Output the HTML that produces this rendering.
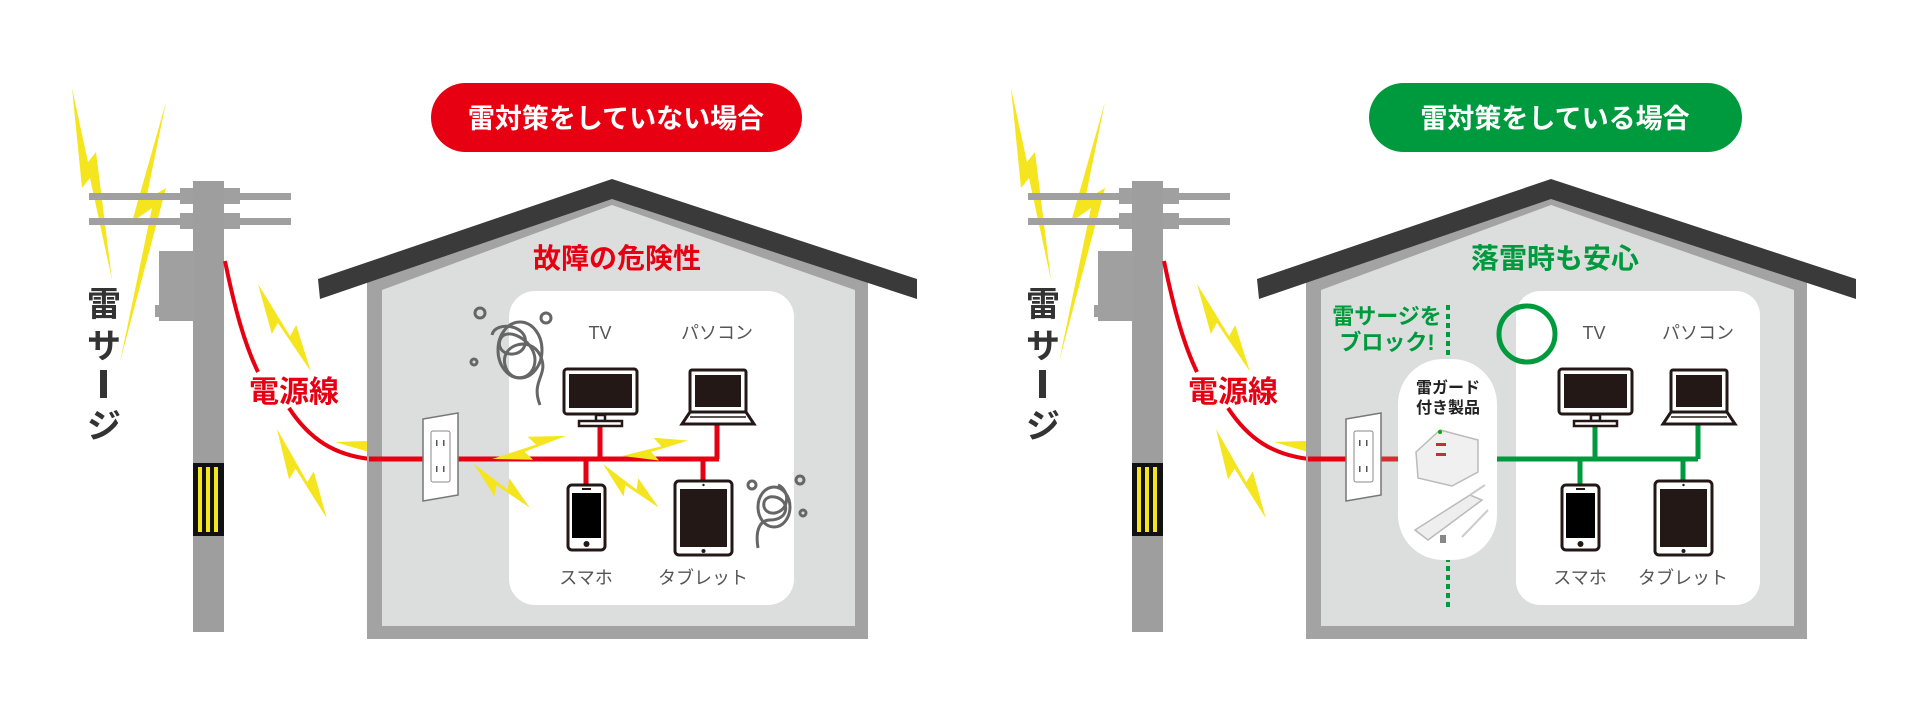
<!DOCTYPE html>
<html><head><meta charset="utf-8">
<style>html,body{margin:0;padding:0;background:#fff;width:1920px;height:720px;overflow:hidden}
text{font-family:"Liberation Sans","Noto Sans CJK JP",sans-serif}</style></head>
<body>
<svg width="1920" height="720" viewBox="0 0 1920 720" xmlns="http://www.w3.org/2000/svg">
<defs>
<polygon id="sb" points="0,0 60,8 56,0 100,14 42,8 46,16" fill="#f4e51e"/>
<g id="tv">
<rect x="0" y="0" width="73" height="45" rx="3" fill="#fff" stroke="#231815" stroke-width="3"/>
<rect x="5" y="5" width="63" height="34" fill="#231815"/>
<rect x="32" y="46" width="9" height="6" fill="#fff" stroke="#231815" stroke-width="2.5"/>
<rect x="15" y="52" width="43" height="5" fill="#fff" stroke="#231815" stroke-width="2.5"/>
</g>
<g id="lap">
<rect x="8" y="0" width="56" height="42" rx="2" fill="#fff" stroke="#231815" stroke-width="3"/>
<rect x="13" y="5" width="46" height="32" fill="#231815"/>
<polygon points="8,42 64,42 72,54 0,54" fill="#fff" stroke="#231815" stroke-width="3"/>
<line x1="8" y1="47" x2="64" y2="47" stroke="#231815" stroke-width="1.5"/>
</g>
<g id="ph">
<rect x="0" y="0" width="37" height="65" rx="4" fill="#fff" stroke="#231815" stroke-width="3"/>
<rect x="4" y="8" width="29" height="45" fill="#000"/>
<circle cx="18.5" cy="59" r="3" fill="#231815"/>
<rect x="14" y="3" width="9" height="2" fill="#231815"/>
</g>
<g id="tab">
<rect x="0" y="0" width="57" height="74" rx="4" fill="#fff" stroke="#231815" stroke-width="3"/>
<rect x="5" y="8" width="47" height="58" fill="#231815"/>
<circle cx="28.5" cy="70" r="2" fill="#231815"/>
<circle cx="28.5" cy="4" r="1.2" fill="#231815"/>
</g>
<g id="base">
<polygon points="72,88 88,162 96,152 112,280 90,178 82,188" fill="#f4e51e"/>
<polygon points="166,102 146,200 166,188 120,362 152,208 132,222" fill="#f4e51e"/>
<rect x="89" y="193" width="202" height="7" fill="#a0a0a0"/>
<rect x="89" y="218" width="202" height="7" fill="#a0a0a0"/>
<rect x="180" y="188" width="60" height="16" fill="#a0a0a0"/>
<rect x="180" y="213" width="60" height="16" fill="#a0a0a0"/>
<rect x="193" y="181" width="31" height="451" fill="#9e9e9e"/>
<rect x="159" y="251" width="36" height="70" fill="#a0a0a0"/>
<rect x="155" y="305" width="10" height="12" fill="#a0a0a0"/>
<rect x="193" y="463" width="31" height="73" fill="#111"/>
<rect x="198" y="467" width="4" height="65" fill="#f4e51e"/>
<rect x="206" y="467" width="4" height="65" fill="#f4e51e"/>
<rect x="214" y="467" width="4" height="65" fill="#f4e51e"/>
<text x="104" y="316" font-size="34" font-weight="bold" fill="#333" text-anchor="middle">雷</text>
<text x="104" y="358" font-size="34" font-weight="bold" fill="#333" text-anchor="middle">サ</text>
<rect x="100" y="370" width="7" height="28" fill="#333"/>
<text x="104" y="438" font-size="34" font-weight="bold" fill="#333" text-anchor="middle">ジ</text>
<path d="M225,261 C235,310 245,345 258,372" fill="none" stroke="#e60012" stroke-width="4"/>
<path d="M289,408 C310,440 335,455 370,459" fill="none" stroke="#e60012" stroke-width="4"/>
<text x="294" y="402" font-size="30" font-weight="bold" fill="#e60012" text-anchor="middle">電源線</text>
<use href="#sb" transform="translate(258,284) rotate(47) scale(1,1.5)"/>
<use href="#sb" transform="translate(277,429) rotate(49) scale(1,1.5)"/>
<use href="#sb" transform="translate(335,442) rotate(-15) scale(0.8,1.4)"/>
<polygon points="367,280 612,190 868,280 868,639 367,639" fill="#a3a3a3"/>
<polygon points="382,290 612,205 855,290 855,626 382,626" fill="#dcdddd"/>
<polygon points="318,279 612,179 917,279 917,299 612,199 320,299" fill="#3a3a3a"/>
</g>
<g id="outlet">
<polygon points="423,419 458,413 458,495 423,501" fill="#fff" stroke="#777" stroke-width="1.5"/>
<rect x="431" y="431" width="19" height="51" rx="2" fill="#fff" stroke="#888" stroke-width="1"/>
<rect x="436" y="440" width="1.5" height="6" fill="#555"/><rect x="443" y="440" width="1.5" height="6" fill="#555"/>
<rect x="436" y="466" width="1.5" height="6" fill="#555"/><rect x="443" y="466" width="1.5" height="6" fill="#555"/>
</g>
</defs>

<use href="#base"/>
<rect x="431" y="83" width="371" height="69" rx="34.5" fill="#e60012"/>
<text x="616" y="128" font-size="27" font-weight="bold" fill="#fff" text-anchor="middle">雷対策をしていない場合</text>
<text x="617" y="268" font-size="28" font-weight="bold" fill="#e60012" text-anchor="middle">故障の危険性</text>
<rect x="509" y="291" width="285" height="314" rx="26" fill="#fff"/>
<line x1="369" y1="459" x2="719" y2="459" stroke="#e60012" stroke-width="5"/>
<line x1="600" y1="424" x2="600" y2="459" stroke="#e60012" stroke-width="5"/>
<line x1="717" y1="424" x2="717" y2="459" stroke="#e60012" stroke-width="5"/>
<line x1="586" y1="459" x2="586" y2="485" stroke="#e60012" stroke-width="5"/>
<line x1="703" y1="459" x2="703" y2="481" stroke="#e60012" stroke-width="5"/>
<use href="#outlet"/>
<use href="#tv" transform="translate(564,369)"/>
<use href="#lap" transform="translate(682,370)"/>
<use href="#ph" transform="translate(568,485)"/>
<use href="#tab" transform="translate(675,481)"/>
<text x="600" y="339" font-size="18" fill="#555" text-anchor="middle">TV</text>
<text x="717" y="339" font-size="18" fill="#555" text-anchor="middle">パソコン</text>
<text x="586" y="584" font-size="18" fill="#555" text-anchor="middle">スマホ</text>
<text x="703" y="584" font-size="18" fill="#555" text-anchor="middle">タブレット</text>
<use href="#sb" transform="translate(492,459) rotate(-32) scale(0.75,1.4)"/>
<use href="#sb" transform="translate(474,464) rotate(22) scale(0.68,1.4)"/>
<use href="#sb" transform="translate(603,464) rotate(22) scale(0.68,1.4)"/>
<use href="#sb" transform="translate(622,456) rotate(-30) scale(0.65,1.4)"/>
<g fill="none" stroke="#666" stroke-width="3">
<path d="M540,405 C530,380 550,375 540,355 C530,335 500,345 505,365 C510,385 535,380 535,360 C535,340 505,325 500,340 C495,355 520,360 525,345 C530,325 495,320 492,335"/>
<ellipse cx="520" cy="350" rx="22" ry="28"/>
<circle cx="480" cy="313" r="5"/><circle cx="546" cy="318" r="5"/><circle cx="474" cy="362" r="3"/>
<path d="M758,548 C755,530 760,520 770,520 C790,520 790,500 775,497 C760,494 760,515 775,513 C790,510 790,490 778,485"/>
<ellipse cx="774" cy="507" rx="16" ry="20"/>
<circle cx="752" cy="485" r="4"/><circle cx="800" cy="480" r="4"/><circle cx="803" cy="513" r="3"/>
</g>

<use href="#base" transform="translate(939,0)"/>
<rect x="1369" y="83" width="373" height="69" rx="34.5" fill="#009a3e"/>
<text x="1555" y="128" font-size="27" font-weight="bold" fill="#fff" text-anchor="middle">雷対策をしている場合</text>
<text x="1555" y="268" font-size="28" font-weight="bold" fill="#009a3e" text-anchor="middle">落雷時も安心</text>
<line x1="1448" y1="305" x2="1448" y2="607" stroke="#009a3e" stroke-width="4" stroke-dasharray="5,4"/>
<text x="1387" y="324" font-size="22" font-weight="bold" fill="#009a3e" text-anchor="middle">雷サージを</text>
<text x="1387" y="350" font-size="22" font-weight="bold" fill="#009a3e" text-anchor="middle">ブロック!</text>
<rect x="1516" y="291" width="244" height="314" rx="24" fill="#fff"/>
<rect x="1398" y="359" width="99" height="201" rx="45" fill="#fff"/>
<text x="1448" y="393" font-size="16" font-weight="bold" fill="#222" text-anchor="middle">雷ガード</text>
<text x="1448" y="413" font-size="16" font-weight="bold" fill="#222" text-anchor="middle">付き製品</text>
<path d="M1416,452 L1440,430 L1478,440 L1478,472 L1452,486 L1418,478 Z" fill="#f0f0f0" stroke="#bbb" stroke-width="1.5"/>
<rect x="1436" y="443" width="10" height="3" fill="#b33"/><rect x="1436" y="453" width="10" height="3" fill="#b33"/>
<circle cx="1440" cy="432" r="2" fill="#0a0"/>
<path d="M1415,530 L1470,495 L1482,500 L1428,540 Z" fill="#eee" stroke="#bbb" stroke-width="1.5"/>
<path d="M1470,495 L1485,485 M1462,537 L1488,510" stroke="#ccc" stroke-width="2" fill="none"/>
<rect x="1440" y="535" width="6" height="8" fill="#888"/>
<line x1="1497" y1="459" x2="1698" y2="459" stroke="#009a3e" stroke-width="5"/>
<line x1="1595" y1="424" x2="1595" y2="459" stroke="#009a3e" stroke-width="5"/>
<line x1="1698" y1="424" x2="1698" y2="459" stroke="#009a3e" stroke-width="5"/>
<line x1="1580" y1="459" x2="1580" y2="485" stroke="#009a3e" stroke-width="5"/>
<line x1="1683" y1="459" x2="1683" y2="481" stroke="#009a3e" stroke-width="5"/>
<line x1="1366" y1="459" x2="1398" y2="459" stroke="#d03030" stroke-width="5"/>
<line x1="1308" y1="459" x2="1348" y2="459" stroke="#e60012" stroke-width="5"/>
<use href="#outlet" transform="translate(923,0)"/>
<circle cx="1527" cy="334" r="28" fill="none" stroke="#009a3e" stroke-width="5"/>
<use href="#tv" transform="translate(1559,369)"/>
<use href="#lap" transform="translate(1663,370)"/>
<use href="#ph" transform="translate(1562,485)"/>
<use href="#tab" transform="translate(1655,481)"/>
<text x="1594" y="339" font-size="18" fill="#555" text-anchor="middle">TV</text>
<text x="1698" y="339" font-size="18" fill="#555" text-anchor="middle">パソコン</text>
<text x="1580" y="584" font-size="18" fill="#555" text-anchor="middle">スマホ</text>
<text x="1683" y="584" font-size="18" fill="#555" text-anchor="middle">タブレット</text>
</svg>
</body></html>
